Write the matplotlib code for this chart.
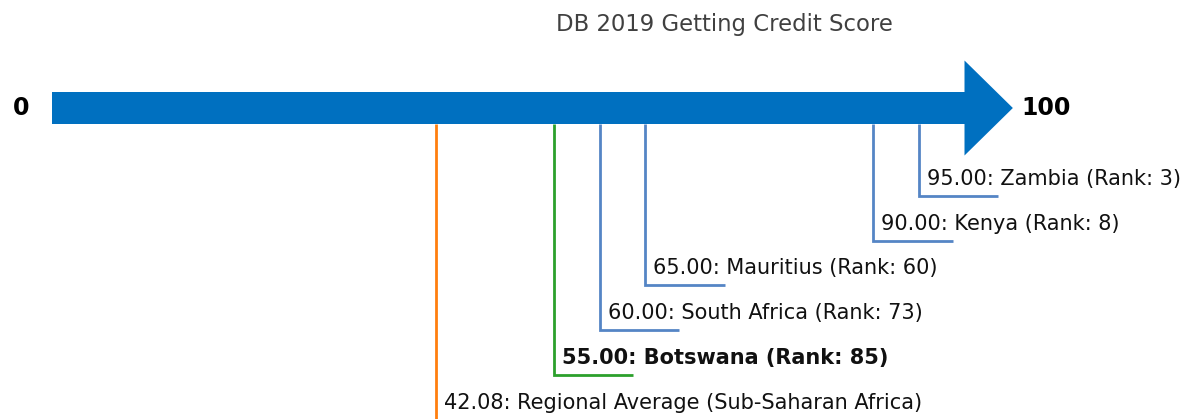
import matplotlib
matplotlib.use("Agg")
import matplotlib.pyplot as plt
from matplotlib.patches import FancyArrow

# ---- data ----
countries = ["Zambia", "Kenya", "Mauritius", "South Africa", "Botswana",
             "Regional Average (Sub-Saharan Africa)"]
scores = [95.00, 90.00, 65.00, 60.00, 55.00, 42.08]
ranks = [3, 8, 60, 73, 85, None]
kinds = ["peer", "peer", "peer", "peer", "focus", "regional"]
title = "DB 2019 Getting Credit Score"
scale_min, scale_max = 0, 100

# ---- style ----
arrow_color = "#0070C0"
kind_colors = {"peer": "#5585C5", "focus": "#2CA02C", "regional": "#FF7F0E"}

W, H = 1183, 419
fig = plt.figure(figsize=(W / 100, H / 100), dpi=100)
ax = fig.add_axes([0, 0, 1, 1])
px_per_unit = 9.125
x0_px = 52
ax.set_xlim(-x0_px / px_per_unit, (W - x0_px) / px_per_unit)
ax.set_ylim(H, 0)
ax.axis("off")

# arrow
arrow_y = 108
arrow = FancyArrow(scale_min, arrow_y, (scale_max - scale_min) + 5.3, 0,
                   width=32, head_width=95, head_length=5.3,
                   length_includes_head=True, color=arrow_color, lw=0)
ax.add_patch(arrow)

ax.text(scale_min - 2.5, arrow_y, str(scale_min), ha="right", va="center",
        fontsize=17, fontweight="bold", color="black")
ax.text(scale_max + 6.2, arrow_y, str(scale_max), ha="left", va="center",
        fontsize=17, fontweight="bold", color="black")

fig.text(724 / W, 1 - 24 / H, title, ha="center", va="center",
         fontsize=16.4, color="#404040")

# leaders
bar_bottom = 124
first_level = 196
level_step = 44.7
hlen = 8.7
for i, (c, s, r, k) in enumerate(zip(countries, scores, ranks, kinds)):
    level = first_level + i * level_step
    col = kind_colors[k]
    ax.plot([s, s, s + hlen], [bar_bottom, level, level], color=col,
            lw=2.0, solid_joinstyle="miter", solid_capstyle="butt")
    label = f"{s:.2f}: {c}" + (f" (Rank: {r})" if r is not None else "")
    ax.text(s + 0.9, level - 11, label, ha="left", va="baseline",
            fontsize=15, color="#111111",
            fontweight="bold" if k == "focus" else "normal")

fig.savefig("out.png", dpi=100)
